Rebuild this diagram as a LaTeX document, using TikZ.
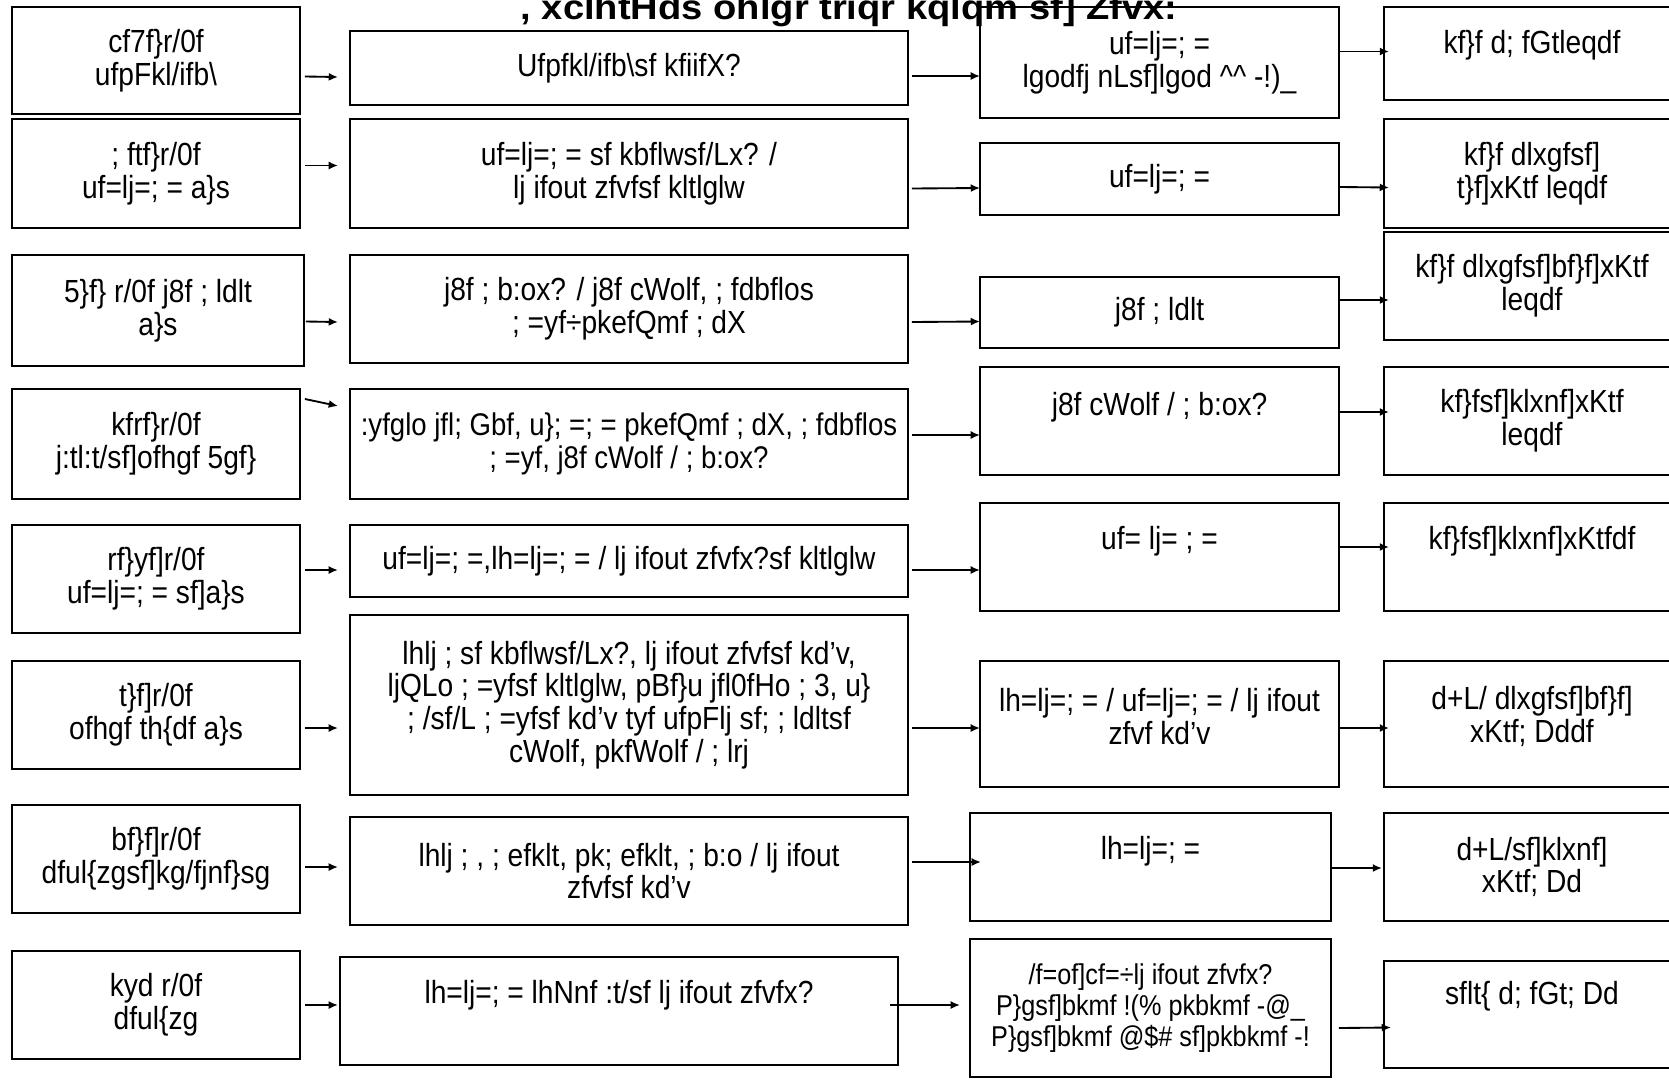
\documentclass[tikz,border=0pt]{standalone}
\usepackage{fontspec}
\setmainfont{Liberation Sans}[FakeStretch=0.88]
\newfontfamily\headfont{Liberation Sans}[FakeStretch=1.1]
\usetikzlibrary{arrows.meta,calc}
\tikzset{
  box/.style={draw, line width=1.4pt, inner sep=0pt, align=center, font=\fontsize{24}{24.5}\selectfont},
  txt/.style={align=center, font=\fontsize{24}{24.5}\selectfont},
  arr/.style={line width=1.4pt, -{Latex[length=7pt,width=6pt]}},
  colA/.style={box, minimum width=216pt},
  colB/.style={box, minimum width=418.5pt},
  colC/.style={box, minimum width=269.25pt},
  colD/.style={box, minimum width=222pt}
}
\begin{document}
\begin{tikzpicture}[x=0.75pt,y=-0.75pt]
    \useasboundingbox (0,0) rectangle (1669,1079);
    \node[anchor=base west, font={\headfont\fontsize{26}{26}\selectfont\bfseries}] (title) at (516,19) {, xclhtHds ohlgr triqr kqlqm sf] Zfvx:};

    % first column
    \node[colA, minimum height=80.25pt] (c1r1) at (156,60.5) {cf7f\}r/0f\\ufpFkl/ifb\textbackslash{}};
    \node[colA, minimum height=81.75pt] (c1r2) at (156,173.5) {; ftf\}r/0f\\uf=lj=; = a\}s};
    \node[colA, minimum width=219pt, minimum height=83.25pt] (c1r3) at (158,310.5) {5\}f\} r/0f j8f ; ldlt\\a\}s};
    \node[colA, minimum height=82.5pt] (c1r4) at (156,444) {kfrf\}r/0f\\j:tl:t/sf]ofhgf 5gf\}};
    \node[colA, minimum height=81pt] (c1r5) at (156,579) {rf\}yf]r/0f\\uf=lj=; = sf]a\}s};
    \node[colA, minimum height=81pt] (c1r6) at (156,715) {t\}f]r/0f\\ofhgf th\{df a\}s};
    \node[colA, minimum height=81pt] (c1r7) at (156,859) {bf\}f]r/0f\\dful\{zgsf]kg/fjnf\}sg};
    \node[colA, minimum height=81pt] (c1r8) at (156,1005) {kyd r/0f\\dful\{zg};

    % second column
    \node[colB, minimum height=55.5pt] (c2r1) at (629,68) {Ufpfkl/ifb\textbackslash{}sf kfiifX?};
    \node[colB, minimum height=81.75pt] (c2r2) at (629,173.5) {uf=lj=; = sf kbflwsf/Lx? /\\lj ifout zfvfsf kltlglw};
    \node[colB, minimum height=81pt] (c2r3) at (629,309) {j8f ; b:ox? / j8f cWolf, ; fdbflos\\; =yf÷pkefQmf ; dX};
    \node[colB, minimum height=82.5pt, font=\fontsize{23.5}{24.5}\selectfont] (c2r4) at (629,444) {:yfglo jfl; Gbf, u\}; =; = pkefQmf ; dX, ; fdbflos\\; =yf, j8f cWolf / ; b:ox?};
    \node[colB, minimum height=54pt] (c2r5) at (629,561) {uf=lj=; =,lh=lj=; = / lj ifout zfvfx?sf kltlglw};
    \node[colB, minimum height=135pt] (c2r6) at (629,705) {lhlj ; sf kbflwsf/Lx?, lj ifout zfvfsf kd'v,\\ljQLo ; =yfsf kltlglw, pBf\}u jfl0fHo ; 3, u\}\\; /sf/L ; =yfsf kd'v tyf ufpFlj sf; ; ldltsf\\cWolf, pkfWolf / ; lrj};
    \node[colB, minimum height=81pt] (c2r7) at (629,871) {lhlj ; , ; efklt, pk; efklt, ; b:o / lj ifout\\zfvfsf kd'v};
    \node[colB, minimum height=81pt, label={[txt,yshift=12pt]center:{lh=lj=; = lhNnf :t/sf lj ifout zfvfx?}}] (c2r8) at (619,1011) {};

    % third column
    \node[colC, minimum height=83.25pt] (c3r1) at (1159.5,62.5) {uf=lj=; =\\lgodfj nLsf]lgod \^{}\^{} -!)\_};
    \node[colC, minimum height=54pt] (c3r2) at (1159.5,179) {uf=lj=; =};
    \node[colC, minimum height=53.25pt] (c3r3) at (1159.5,312.5) {j8f ; ldlt};
    \node[colC, minimum height=81pt, label={[txt,yshift=10.5pt]center:{j8f cWolf / ; b:ox?}}] (c3r4) at (1159.5,421) {};
    \node[colC, minimum height=81pt, label={[txt,yshift=12pt]center:{uf= lj= ; =}}] (c3r5) at (1159.5,557) {};
    \node[colC, minimum height=94.5pt, label={[txt,yshift=5.5pt]center:{lh=lj=; = / uf=lj=; = / lj ifout\\zfvf kd'v}}] (c3r6) at (1159.5,724) {};
    \node[colC, minimum width=270.75pt, minimum height=81pt, label={[txt,yshift=12pt]center:{lh=lj=; =}}] (c3r7) at (1150.5,867) {};
    \node[colC, minimum width=270.75pt, minimum height=103.5pt, font=\fontsize{21.5}{23.5}\selectfont] (c3r8) at (1150.5,1008) {/f=of]cf=÷lj ifout zfvfx?\\P\}gsf]bkmf !(\% pkbkmf -@\_\\P\}gsf]bkmf @\$\# sf]pkbkmf -!};

    % fourth column
    \node[colD, minimum height=69.75pt, label={[txt,yshift=6.5pt]center:{kf\}f d; fGtleqdf}}] (c4r1) at (1532,53.5) {};
    \node[colD, minimum height=81.75pt] (c4r2) at (1532,173.5) {kf\}f dlxgfsf]\\t\}f]xKtf leqdf};
    \node[colD, minimum height=81pt] (c4r3) at (1532,286) {kf\}f dlxgfsf]bf\}f]xKtf\\leqdf};
    \node[colD, minimum height=81pt] (c4r4) at (1532,421) {kf\}fsf]klxnf]xKtf\\leqdf};
    \node[colD, minimum height=81pt, label={[txt,yshift=12pt]center:{kf\}fsf]klxnf]xKtfdf}}] (c4r5) at (1532,557) {};
    \node[colD, minimum height=94.5pt, label={[txt,yshift=5.5pt]center:{d+L/ dlxgfsf]bf\}f]\\xKtf; Dddf}}] (c4r6) at (1532,724) {};
    \node[colD, minimum height=81pt] (c4r7) at (1532,867) {d+L/sf]klxnf]\\xKtf; Dd};
    \node[colD, minimum height=80.25pt, label={[txt,yshift=13.5pt]center:{sflt\{ d; fGt; Dd}}] (c4r8) at (1532,1014.5) {};

    % arrows, first to second column
    \draw[arr] ($(c1r1.east)+(4,16)$) -- ($(c2r1.west)+(-11,9)$);
    \draw[arr] ($(c1r2.east)+(4,-8)$) -- ($(c2r2.west)+(-11,-8)$);
    \draw[arr] ($(c1r3.east)+(1,11)$) -- ($(c2r3.west)+(-11,13)$);
    \draw[arr] ($(c1r4.east)+(4,-45)$) -- ($(c2r4.west)+(-11,-38)$);
    \draw[arr] ($(c1r5.east)+(4,-9)$) -- ($(c2r5.west)+(-11,9)$);
    \draw[arr] ($(c1r6.east)+(4,13)$) -- ($(c2r6.west)+(-11,23)$);
    \draw[arr] ($(c1r7.east)+(4,8)$) -- ($(c2r7.west)+(-11,-4)$);
    \draw[arr] ($(c1r8.east)+(4,0)$) -- ($(c2r8.west)+(-1,-6)$);

    % second to third column
    \draw[arr] ($(c2r1.east)+(3,8)$) -- ($(c3r1.west)+(1,13.5)$);
    \draw[arr] ($(c2r2.east)+(3,15)$) -- ($(c3r2.west)+(1,9)$);
    \draw[arr] ($(c2r3.east)+(3,13)$) -- ($(c3r3.west)+(1,9)$);
    \draw[arr] ($(c2r4.east)+(3,-9)$) -- ($(c3r4.west)+(1,14)$);
    \draw[arr] ($(c2r5.east)+(3,9)$) -- ($(c3r5.west)+(1,13)$);
    \draw[arr] ($(c2r6.east)+(3,23)$) -- ($(c3r6.west)+(1,4)$);
    \draw[arr] ($(c2r7.east)+(3,-9)$) -- ($(c3r7.west)+(12,-5)$);
    \draw[arr] ($(c2r8.east)+(-9,-6)$) -- ($(c3r8.west)+(-9,-3)$);

    % third to fourth column
    \draw[arr] ($(c3r1.east)+(0,-11)$) -- ($(c4r1.west)+(6,-2)$);
    \draw[arr] ($(c3r2.east)+(0,8)$) -- ($(c4r2.west)+(6,14)$);
    \draw[arr] ($(c3r3.east)+(0,-12.5)$) -- ($(c4r3.west)+(6,14)$);
    \draw[arr] ($(c3r4.east)+(0,-9)$) -- ($(c4r4.west)+(6,-9)$);
    \draw[arr] ($(c3r5.east)+(0,-10)$) -- ($(c4r5.west)+(6,-10)$);
    \draw[arr] ($(c3r6.east)+(0,4)$) -- ($(c4r6.west)+(6,4)$);
    \draw[arr] ($(c3r7.east)+(0,1)$) -- ($(c4r7.west)+(-1,1)$);
    \draw[arr] ($(c3r8.east)+(7,20)$) -- ($(c4r8.west)+(8,13)$);
\end{tikzpicture}
\end{document}
